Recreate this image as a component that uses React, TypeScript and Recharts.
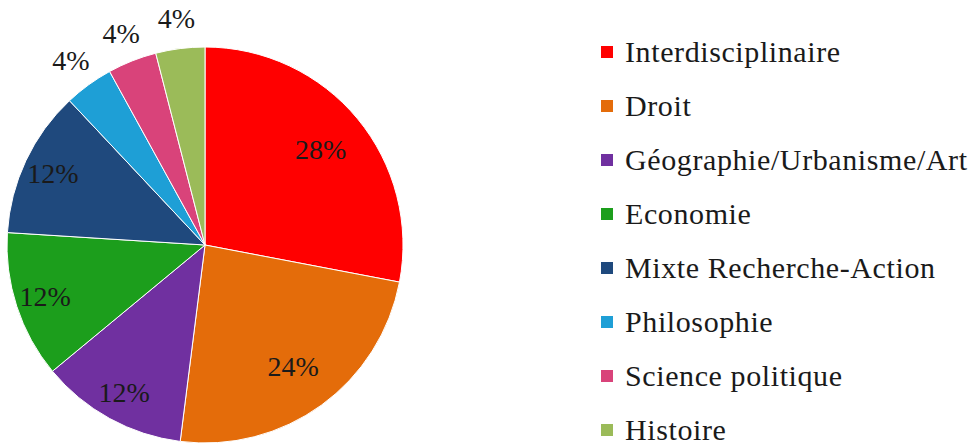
import React from "react";
import { PieChart, Pie, Cell, Legend } from "recharts";

const categories = [
  "Interdisciplinaire",
  "Droit",
  "Géographie/Urbanisme/Art",
  "Economie",
  "Mixte Recherche-Action",
  "Philosophie",
  "Science politique",
  "Histoire",
];
const values = [28, 24, 12, 12, 12, 4, 4, 4];
const colors = ["#FF0000", "#E46C0A", "#7030A0", "#1C9E1C", "#1F497D", "#1E9FD6", "#D9437A", "#9BBB59"];

const data = categories.map((name, i) => ({ name, value: values[i], color: colors[i] }));

const FONT = '"Liberation Serif"';
const RAD = Math.PI / 180;

const renderLabel = (props: any) => {
  const { cx, cy, midAngle, value } = props;
  const r = value <= 5 ? 228 : value >= 20 ? 150 : 168;
  const x = cx + r * Math.cos(-midAngle * RAD);
  const y = cy + r * Math.sin(-midAngle * RAD);
  return (
    <text x={x} y={y} textAnchor="middle" dominantBaseline="central" fill="#1a1a1a" fontFamily={FONT} fontSize={28}>
      {`${value}%`}
    </text>
  );
};

const renderLegend = () => (
  <div>
    {data.map((d) => (
      <div key={d.name} style={{ display: "flex", alignItems: "center", height: 54, whiteSpace: "nowrap" }}>
        <span style={{ display: "inline-block", width: 12, height: 12, background: d.color, marginRight: 12 }} />
        <span style={{ fontFamily: FONT, fontSize: 30, letterSpacing: 0.6, color: "#1a1a1a" }}>{d.name}</span>
      </div>
    ))}
  </div>
);

export default function App() {
  return (
    <div style={{ position: "absolute", left: 0, top: 0, width: 980, height: 447, background: "#fff" }}>
      <PieChart width={980} height={447} margin={{ top: 0, right: 0, bottom: 0, left: 0 }}>
        <Pie
          data={data}
          dataKey="value"
          nameKey="name"
          cx={205}
          cy={245}
          outerRadius={198}
          startAngle={90}
          endAngle={-270}
          stroke="#ffffff"
          strokeWidth={1}
          label={renderLabel}
          labelLine={false}
          isAnimationActive={false}
        >
          {data.map((d) => (
            <Cell key={d.name} fill={d.color} />
          ))}
        </Pie>
        <Legend
          layout="vertical"
          content={renderLegend}
          wrapperStyle={{ position: "absolute", left: 601, top: 25, width: 379 }}
        />
      </PieChart>
    </div>
  );
}
